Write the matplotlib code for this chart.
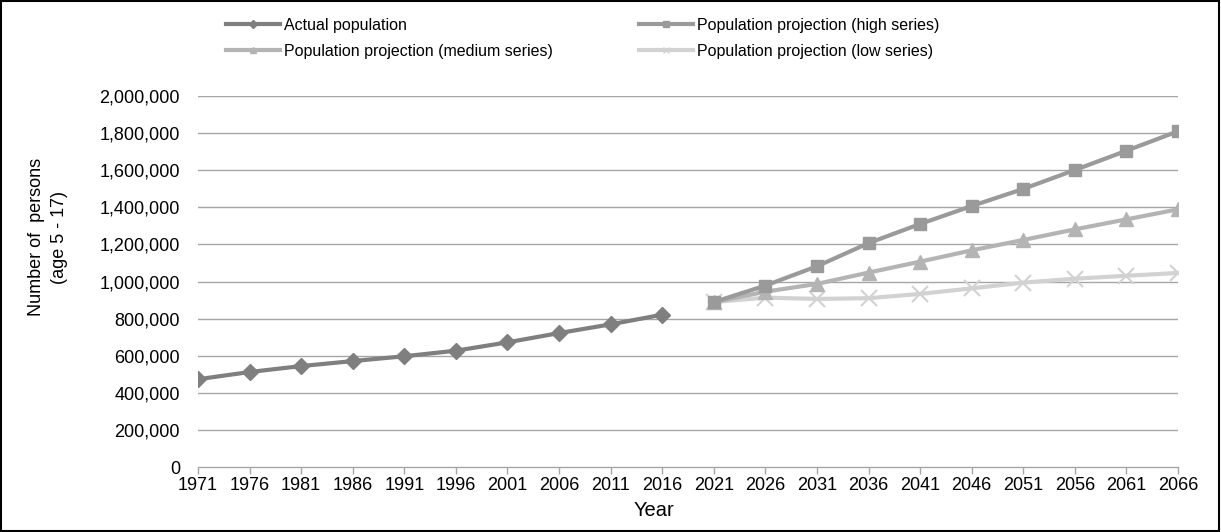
import matplotlib.pyplot as plt
from matplotlib.lines import Line2D
from matplotlib.patches import Rectangle
from matplotlib.ticker import FuncFormatter

plt.rcParams['font.family'] = ['Liberation Sans', 'DejaVu Sans']

#### data
years = [1971, 1976, 1981, 1986, 1991, 1996, 2001, 2006, 2011, 2016,
         2021, 2026, 2031, 2036, 2041, 2046, 2051, 2056, 2061, 2066]
actual_years = years[:10]
proj_years = years[10:]

actual = [473000, 512000, 544000, 571000, 597000, 627000, 672000, 722000, 769000, 821000]
high = [889000, 978000, 1082000, 1207000, 1310000, 1407000, 1499000, 1601000, 1705000, 1810000]
medium = [889000, 945000, 987000, 1048000, 1107000, 1168000, 1224000, 1281000, 1335000, 1389000]
low = [889000, 913000, 906000, 910000, 933000, 963000, 994000, 1015000, 1031000, 1046000]

yticks = list(range(0, 2000001, 200000))

# category positions
pos = {y: i for i, y in enumerate(years)}
xa = [pos[y] for y in actual_years]
xp = [pos[y] for y in proj_years]

c_act = '#7f7f7f'
c_high = '#9a9a9a'
c_med = '#b4b4b4'
c_low = '#d2d2d2'
grid_c = '#a6a6a6'

#### plot
W, H = 1221, 532
fig = plt.figure(figsize=(W/100, H/100), dpi=100)
ax = fig.add_axes([198/W, 1 - 467/H, (1178 - 198)/W, (467 - 96)/H])

ax.plot(xp, low, '-', color=c_low, lw=3, marker='x', ms=11, mew=1.5, mec=c_low, zorder=3)
ax.plot(xp, medium, '-', color=c_med, lw=3, marker='^', ms=10, mec=c_med, mfc=c_med, zorder=4)
ax.plot(xp, high, '-', color=c_high, lw=3, marker='s', ms=9, mec=c_high, mfc=c_high, zorder=5)
ax.plot(xa, actual, '-', color=c_act, lw=3, marker='D', ms=8, mec=c_act, mfc=c_act, zorder=6)

ax.set_xlim(0, len(years) - 1)
ax.set_ylim(0, 2000000)
ax.set_xticks(range(len(years)))
ax.set_xticklabels([str(y) for y in years], fontsize=13)
ax.set_yticks(yticks)
ax.yaxis.set_major_formatter(FuncFormatter(lambda v, p: f'{int(v):,}'))
ax.tick_params(axis='y', length=0, labelsize=13, pad=13)
ax.tick_params(axis='x', length=5, color=grid_c, width=1, direction='out', pad=2)

for yv in yticks[1:]:
    ax.axhline(yv, color=grid_c, lw=1, zorder=1)

for s in ['top', 'right', 'left']:
    ax.spines[s].set_visible(False)
ax.spines['bottom'].set_color(grid_c)
ax.spines['bottom'].set_linewidth(1)

# axis titles
fig.text(48/W, 1 - 237/H, 'Number of  persons\n(age 5 - 17)', rotation=90,
         ha='center', va='center', fontsize=13, linespacing=1.45)
fig.text(654/W, 1 - 511/H, 'Year', ha='center', va='center', fontsize=14.5)

# legend (two columns placed separately)
h_act = Line2D([0], [0], color=c_act, lw=3, marker='D', ms=4, mfc=c_act, mec=c_act)
h_med = Line2D([0], [0], color=c_med, lw=3, marker='^', ms=5, mfc=c_med, mec=c_med)
h_high = Line2D([0], [0], color=c_high, lw=3, marker='s', ms=5, mfc=c_high, mec=c_high)
h_low = Line2D([0], [0], color=c_low, lw=3, marker='x', ms=5, mec=c_low)

leg_kw = dict(loc='upper left', frameon=False, fontsize=11.5, handlelength=3.38,
              handletextpad=0.25, labelspacing=0.68, borderpad=0, borderaxespad=0)
fig.legend([h_act, h_med], ['Actual population', 'Population projection (medium series)'],
           bbox_to_anchor=(226/W, 1 - 18/H), **leg_kw)
fig.legend([h_high, h_low], ['Population projection (high series)', 'Population projection (low series)'],
           bbox_to_anchor=(639/W, 1 - 18/H), **leg_kw)

# figure frame
fig.patches.append(Rectangle((0.001, 0.002), 0.997, 0.996, transform=fig.transFigure,
                             fill=False, edgecolor='black', lw=1.5))

fig.savefig('out.png', dpi=100)
